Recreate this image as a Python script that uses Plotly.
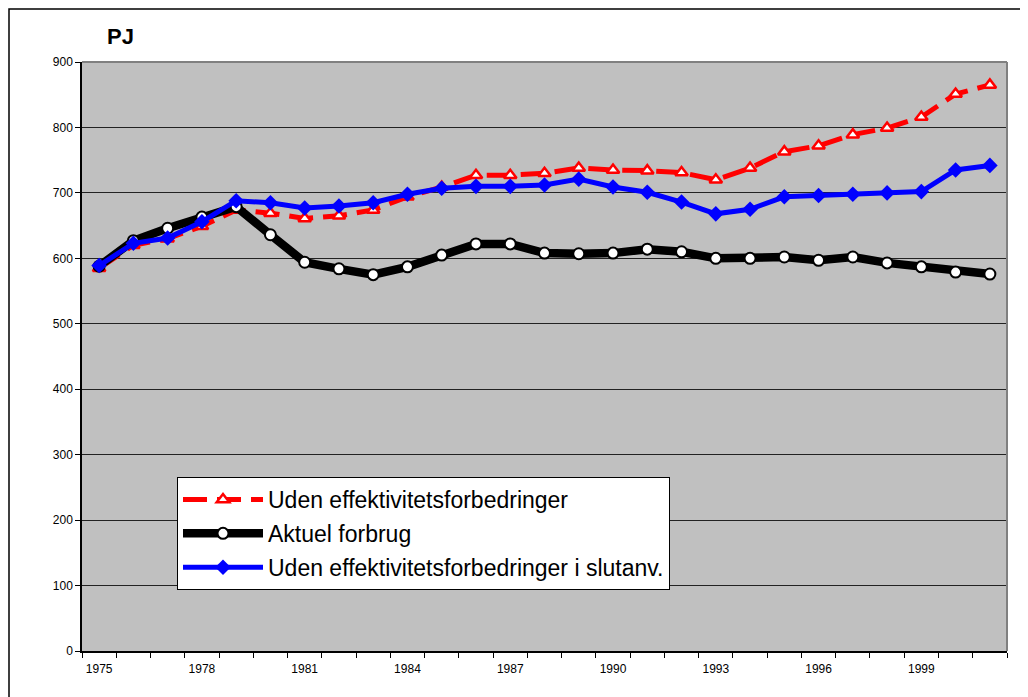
import plotly.graph_objects as go

years = list(range(1975, 2002))

uden_eff = [585, 620, 630, 649, 674, 669, 661, 665, 674, 694, 709, 727, 727, 730, 738,
            735, 734, 731, 720, 738, 763, 772, 789, 799, 816, 851, 865]
aktuel = [588, 627, 646, 663, 679, 636, 594, 584, 575, 587, 605, 622, 622, 608, 607,
          608, 614, 610, 600, 600, 602, 597, 602, 593, 587, 579, 576]
uden_slut = [589, 623, 631, 656, 688, 685, 677, 680, 685, 698, 707, 710, 710, 712, 721,
             709, 701, 686, 668, 675, 694, 696, 698, 700, 702, 735, 742]

names = ["Uden effektivitetsforbedringer", "Aktuel forbrug",
         "Uden effektivitetsforbedringer i slutanv."]

xtick_vals = list(range(1975, 2002, 3))
ytick_vals = list(range(0, 1000, 100))

FONT = "Liberation Sans, Arial, sans-serif"

# page body has an 8px margin; figure is sized so plot area lands at x 82..1007, y 62..651
OFF = 8
W, H = 1028 - OFF, 697 - OFF
L, R, T, B = 82 - OFF, 21, 62 - OFF, 46
pw, ph = W - L - R, H - T - B


def px(xp):
    return (xp - 82) / pw


def py(yp):
    return (651 - yp) / ph


fig = go.Figure()
fig.add_trace(go.Scatter(
    x=years, y=uden_eff, name=names[0], mode="lines+markers",
    line=dict(color="#FF0000", width=5, dash="24px,10px"),
    marker=dict(symbol="triangle-up", size=11, color="white",
                line=dict(color="#FF0000", width=2.5)),
    legendgroup="a"))
fig.add_trace(go.Scatter(
    x=years, y=aktuel, name=names[1], mode="lines+markers",
    line=dict(color="#000000", width=8.5),
    marker=dict(symbol="circle", size=11, color="white",
                line=dict(color="#000000", width=2)),
    legendgroup="b"))
fig.add_trace(go.Scatter(
    x=years, y=uden_slut, name=names[2], mode="lines+markers",
    line=dict(color="#0000FF", width=5),
    marker=dict(symbol="diamond", size=12, color="#0000FF"),
    legendgroup="c"))

fig.update_layout(
    width=W, height=H,
    margin=dict(l=L, r=R, t=T, b=B),
    paper_bgcolor="white", plot_bgcolor="#C0C0C0",
    font=dict(family=FONT, color="black"),
    showlegend=True,
    legend=dict(x=px(177), y=py(477), xanchor="left", yanchor="top",
                bgcolor="white", bordercolor="black", borderwidth=1,
                font=dict(size=23, family=FONT), tracegroupgap=1,
                traceorder="grouped", itemwidth=80),
    xaxis=dict(range=[1974.5, 2001.5], tickvals=xtick_vals,
               ticktext=[str(v) for v in xtick_vals],
               ticks="", showgrid=False, zeroline=False,
               showline=True, linecolor="black", linewidth=1.5,
               ticklabelstandoff=6,
               tickfont=dict(size=12, family=FONT),
               minor=dict(tickvals=[y - 0.5 for y in range(1975, 2003)],
                          ticks="outside", ticklen=5, tickcolor="black",
                          tickwidth=1, showgrid=False)),
    yaxis=dict(range=[0, 900], tickvals=ytick_vals, ticks="outside",
               ticklen=5, tickcolor="black", showgrid=True,
               gridcolor="#222222", gridwidth=1, zeroline=False,
               showline=True, linecolor="black", linewidth=1.5,
               tickfont=dict(size=12, family=FONT)),
    annotations=[dict(text="<b>PJ</b>", x=px(120), y=py(36), xref="paper", yref="paper",
                      xanchor="center", yanchor="middle",
                      showarrow=False, font=dict(size=22, family=FONT))],
)

# plot-area right and top borders (gray) and outer chart frame
fig.add_shape(type="line", xref="paper", yref="paper", x0=1, x1=1, y0=0, y1=1,
              line=dict(color="#808080", width=2))
fig.add_shape(type="line", xref="paper", yref="paper", x0=0, x1=1, y0=1, y1=1,
              line=dict(color="#808080", width=2))
fig.add_shape(type="rect", xref="paper", yref="paper",
              x0=px(9), x1=px(1060), y0=py(720), y1=py(9),
              line=dict(color="black", width=1.5), fillcolor="rgba(0,0,0,0)")

fig.write_html("out.html")
